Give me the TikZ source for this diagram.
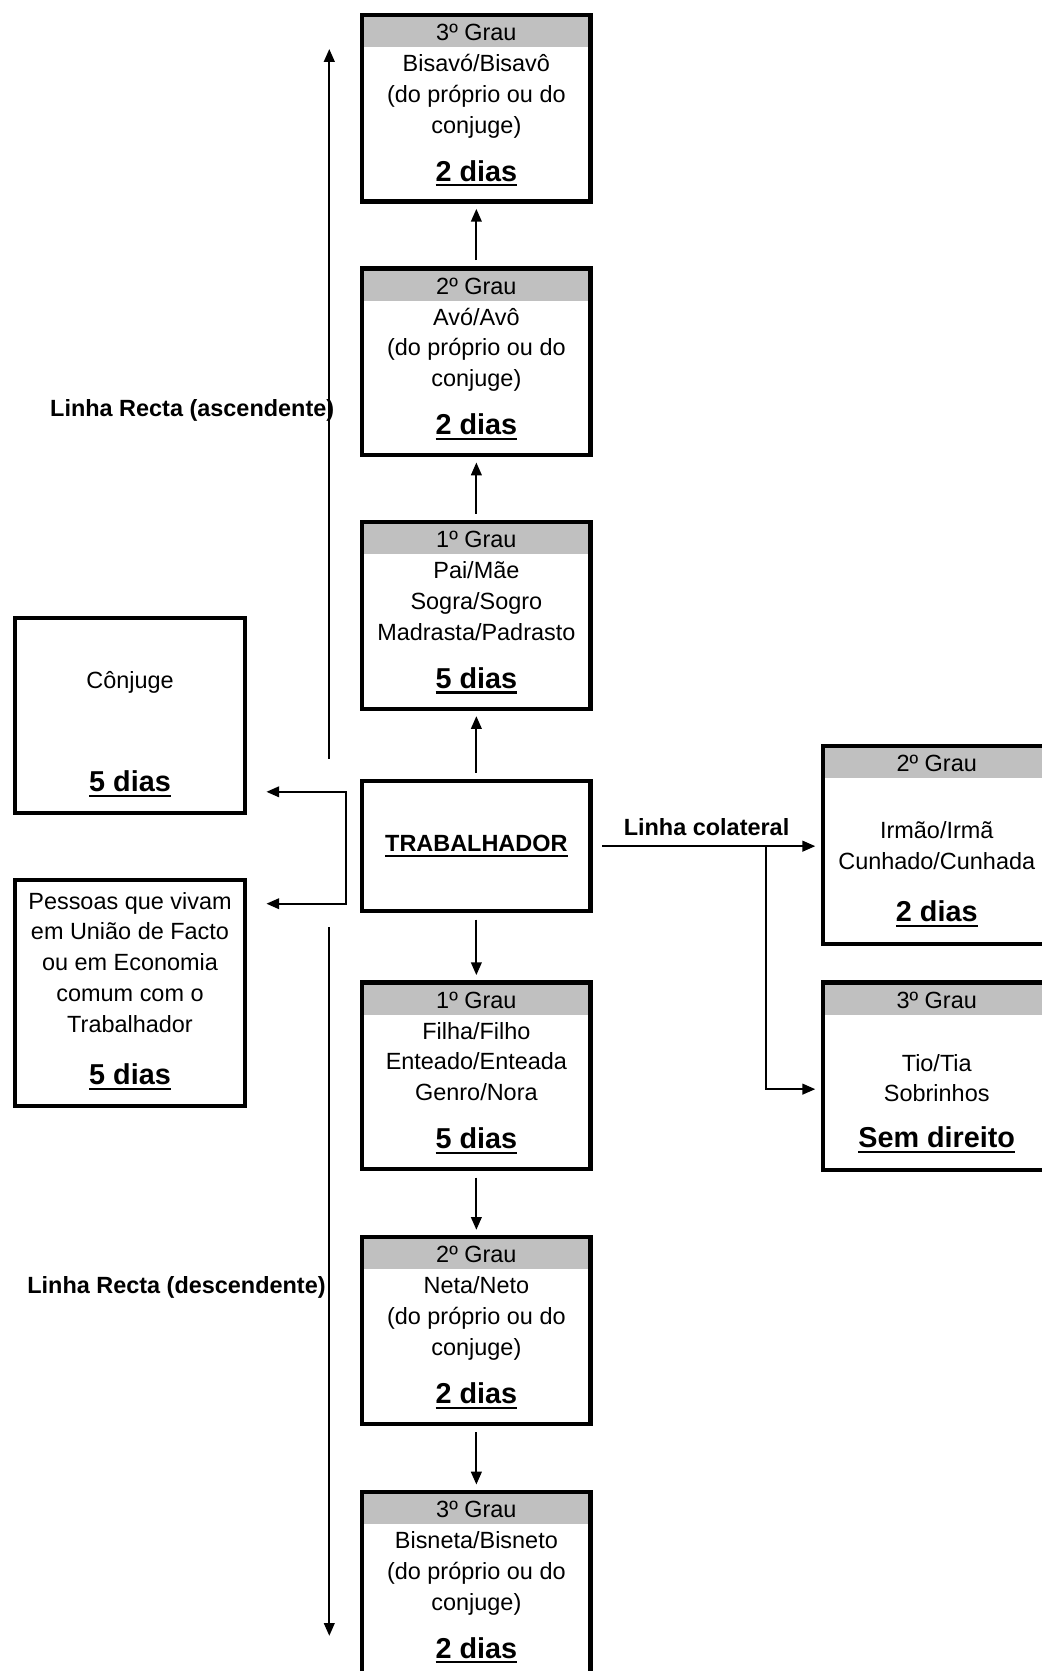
\documentclass[tikz,border=0pt]{standalone}
\usepackage{fontspec}
\setmainfont{Liberation Sans}
\usetikzlibrary{positioning, arrows.meta}

\definecolor{cinza}{RGB}{192,192,192}

% texto sublinhado com traco grosso
\newcommand{\sublinha}[1]{\leavevmode\setbox0=\hbox{#1}\rlap{\rule[-2.4pt]{\wd0}{1pt}}\box0}
\newcommand{\prazo}[1]{{\bfseries\fontsize{13.5}{14.5}\selectfont\sublinha{#1}}}
\newcommand{\conteudo}[3]{\parbox[c][#2][t]{#1}{\centering #3}}

\begin{document}
\begin{tikzpicture}[x=0.5pt, y=-0.5pt, node distance=29.5pt,
	font=\fontsize{11}{14.5}\selectfont,
	caixa/.style = {draw, line width=2pt, inner sep=0pt},
	grau/.style = {caixa, path picture={\fill[cinza] ([xshift=1pt,yshift=-1pt]path picture bounding box.north west) rectangle ([xshift=-1pt,yshift=-15pt]path picture bounding box.north east);}},
	seta/.style = {-{Triangle[length=6pt,width=5pt]}, line width=0.9pt, shorten <=3pt, shorten >=2.5pt},
	linha/.style = {font=\bfseries\fontsize{11}{13}\selectfont, inner sep=0pt}]
		\useasboundingbox (0,0) rectangle (977,1568);
		% coluna central
		\node[caixa, minimum width=107pt, minimum height=61pt, font=\bfseries\fontsize{11}{13}\selectfont] (trab) at (447,794) {\sublinha{TRABALHADOR}};
		\node[grau] (pai) [above=32pt of trab] {\conteudo{107pt}{87.5pt}{\rule{0pt}{12pt}1º Grau\\ Pai/Mãe\\ Sogra/Sogro\\ Madrasta/Padrasto\\[8pt] \prazo{5 dias}}};
		\node[grau] (avo) [above=of pai] {\conteudo{107pt}{87.5pt}{\rule{0pt}{12pt}2º Grau\\ Avó/Avô\\ (do próprio ou do\\ conjuge)\\[8pt] \prazo{2 dias}}};
		\node[grau] (bis) [above=of avo] {\conteudo{107pt}{87.5pt}{\rule{0pt}{12pt}3º Grau\\ Bisavó/Bisavô\\ (do próprio ou do\\ conjuge)\\[8pt] \prazo{2 dias}}};
		\node[grau] (filho) [below=31.5pt of trab] {\conteudo{107pt}{87.5pt}{\rule{0pt}{12pt}1º Grau\\ Filha/Filho\\ Enteado/Enteada\\ Genro/Nora\\[8pt] \prazo{5 dias}}};
		\node[grau] (neto) [below=30pt of filho] {\conteudo{107pt}{87.5pt}{\rule{0pt}{12pt}2º Grau\\ Neta/Neto\\ (do próprio ou do\\ conjuge)\\[8pt] \prazo{2 dias}}};
		\node[grau] (bisneto) [below=30pt of neto] {\conteudo{107pt}{87.5pt}{\rule{0pt}{12pt}3º Grau\\ Bisneta/Bisneto\\ (do próprio ou do\\ conjuge)\\[8pt] \prazo{2 dias}}};
		% lado esquerdo
		\node[caixa] (conj) at (122,671.5) {\conteudo{108pt}{91.5pt}{\rule{0pt}{33pt}Cônjuge\\[34pt] \prazo{5 dias}}};
		\node[caixa] (uniao) at (122,932) {\conteudo{108pt}{106pt}{\rule{0pt}{13.5pt}Pessoas que vivam\\ em União de Facto\\ ou em Economia\\ comum com o\\ Trabalhador\\[10pt] \prazo{5 dias}}};
		% lado direito
		\node[grau] (irmao) at (879,793) {\conteudo{107pt}{93pt}{\rule{0pt}{12pt}2º Grau\\[17pt] Irmão/Irmã\\ Cunhado/Cunhada\\[10pt] \prazo{2 dias}}};
		\node[grau] (tio) at (879,1010) {\conteudo{107pt}{88pt}{\rule{0pt}{12pt}3º Grau\\[15pt] Tio/Tia\\ Sobrinhos\\[7pt] \prazo{Sem direito}}};
		% linhas rectas
		\node[linha, anchor=east] (lasc) at (314,385) {Linha Recta (ascendente)};
		\node[linha, anchor=east] (ldesc) at (306,1208) {Linha Recta (descendente)};
		\coordinate (asc0) at (309,712);
		\coordinate (asc1) at (309,46);
		\coordinate (desc0) at (309,870);
		\coordinate (desc1) at (309,1535);
		\draw[seta, shorten <=0pt, shorten >=0pt] (asc0) -- (asc1);
		\draw[seta, shorten <=0pt, shorten >=0pt] (desc0) -- (desc1);
		\draw[seta] (trab) -- (pai);
		\draw[seta] (pai) -- (avo);
		\draw[seta] (avo) -- (bis);
		\draw[seta] (trab) -- (filho);
		\draw[seta] (filho) -- (neto);
		\draw[seta] (neto) -- (bisneto);
		% conjuge e uniao de facto
		\coordinate (br1) at (325,743);
		\coordinate (br2) at (325,848);
		\draw[{Triangle[length=6pt,width=5pt]}-{Triangle[length=6pt,width=5pt]}, line width=0.9pt, shorten <=9pt, shorten >=9pt] (conj.east |- br1) -- (br1) -- (br2) -- (uniao.east |- br2);
		% linha colateral
		\draw[seta, shorten <=4.5pt] (trab.east) -- (trab.east -| irmao.west) node[linha, midway, above=4.5pt] (lcol) {Linha colateral};
		\coordinate (ramo) at (719,794);
		\draw[seta, shorten <=0pt] (ramo) |- ([yshift=-6pt]tio.west);
	\end{tikzpicture}
\end{document}
